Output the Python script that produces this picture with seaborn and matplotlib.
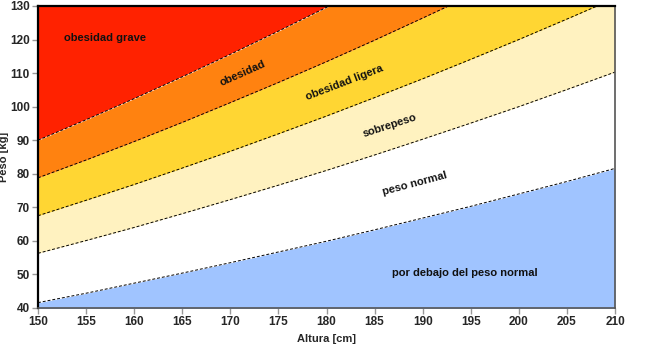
import matplotlib
matplotlib.use("Agg")
import matplotlib.pyplot as plt
import seaborn as sns
import pandas as pd

# Height grid (cm) and weight limits (kg) of each BMI class boundary
heights = [150, 155, 160, 165, 170, 175, 180, 185, 190, 195, 200, 205, 210]
w_bmi_18_5 = [41.6, 44.4, 47.4, 50.4, 53.5, 56.7, 59.9, 63.3, 66.8, 70.3, 74.0, 77.7, 81.6]
w_bmi_25 = [56.3, 60.1, 64.0, 68.1, 72.3, 76.6, 81.0, 85.6, 90.3, 95.1, 100.0, 105.1, 110.3]
w_bmi_30 = [67.5, 72.1, 76.8, 81.7, 86.7, 91.9, 97.2, 102.7, 108.3, 114.1, 120.0, 126.1, 132.3]
w_bmi_35 = [78.8, 84.1, 89.6, 95.3, 101.2, 107.2, 113.4, 119.8, 126.4, 133.1, 140.0, 147.1, 154.4]
w_bmi_40 = [90.0, 96.1, 102.4, 108.9, 115.6, 122.5, 129.6, 136.9, 144.4, 152.1, 160.0, 168.1, 176.4]

class_labels = ["por debajo del peso normal", "peso normal", "sobrepeso",
                "obesidad ligera", "obesidad", "obesidad grave"]
class_colors = ["#a0c4ff", "#ffffff", "#fff2c0", "#ffd633", "#ff8210", "#ff2200"]
x_ticks = [150, 155, 160, 165, 170, 175, 180, 185, 190, 195, 200, 205, 210]
y_ticks = [40, 50, 60, 70, 80, 90, 100, 110, 120, 130]

sns.set_theme(style="white")
plt.rcParams["font.family"] = ["Liberation Sans", "DejaVu Sans"]

df = pd.DataFrame({"altura": heights, "b1": w_bmi_18_5, "b2": w_bmi_25,
                   "b3": w_bmi_30, "b4": w_bmi_35, "b5": w_bmi_40})

fig = plt.figure(figsize=(6.47, 3.48), dpi=100)
ax = fig.add_axes([38 / 647, 1 - 308 / 348, (615 - 38) / 647, (308 - 6) / 348])

bounds = [[0] * len(heights), w_bmi_18_5, w_bmi_25, w_bmi_30, w_bmi_35, w_bmi_40,
          [300] * len(heights)]
for i, col in enumerate(class_colors):
    ax.fill_between(heights, bounds[i], bounds[i + 1], color=col, lw=0, zorder=1)

for c in ["b1", "b2", "b3", "b4", "b5"]:
    sns.lineplot(data=df, x="altura", y=c, ax=ax, color="black", lw=0.7,
                 linestyle=(0, (3, 2)), zorder=3)

ax.set_xlim(150, 210)
ax.set_ylim(40, 130)
ax.set_xticks(x_ticks)
ax.set_yticks(y_ticks)
ax.tick_params(axis="both", direction="out", length=4, width=1, color="#999999",
               labelsize=8.5, pad=2, bottom=True, left=True)
for lab in ax.get_xticklabels() + ax.get_yticklabels():
    lab.set_fontweight("bold")

for side in ["left", "top"]:
    ax.spines[side].set_color("black")
    ax.spines[side].set_linewidth(1.6)
for side in ["right", "bottom"]:
    ax.spines[side].set_color("#555555")
    ax.spines[side].set_linewidth(1.2)
for s in ax.spines.values():
    s.set_zorder(5)

ax.set_xlabel("Altura [cm]", fontsize=8, fontweight="bold")
ax.set_ylabel("Peso [kg]", fontsize=8, fontweight="bold")
ax.xaxis.set_label_coords(0.5, -0.085)
ax.yaxis.set_label_coords(-0.05, 0.5)

txt = dict(fontsize=8, fontweight="bold", color="#111111", ha="center", va="center",
           zorder=4)
ax.text(157.0, 120.5, class_labels[5], **txt)
ax.text(171.3, 110.0, class_labels[4], rotation=24, **txt)
ax.text(181.9, 107.3, class_labels[3], rotation=21, **txt)
ax.text(186.6, 94.5, class_labels[2], rotation=18, **txt)
ax.text(189.2, 77.0, class_labels[1], rotation=15, **txt)
ax.text(194.4, 50.4, class_labels[0], **txt)

fig.savefig("out.png", dpi=100)
